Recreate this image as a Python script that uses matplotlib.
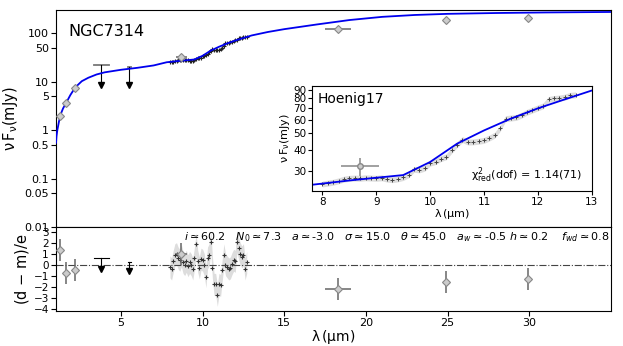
import numpy as np
import matplotlib
matplotlib.use('Agg')
import matplotlib.pyplot as plt
from matplotlib.ticker import FixedLocator, FixedFormatter, NullLocator

# photometry (diamonds)
phot_wl = [1.25, 1.65, 2.2, 8.7, 18.3, 24.9, 29.9]
phot_flux = [2.0, 3.6, 7.3, 32.0, 121.0, 182.0, 204.0]
phot_xerr = [0.0, 0.0, 0.0, 0.35, 0.8, 0.0, 0.0]
phot_yerr = [0.2, 0.4, 0.8, 4.0, 12.0, 25.0, 30.0]
phot_res = [1.3, -0.75, -0.5, 1.0, -2.2, -1.6, -1.3]

# upper limits
ul_wl = [3.8, 5.5]
ul_flux = [22.0, 20.0]
ul_tip = [8.5, 8.5]
ul_cap = [0.45, 0.1]
ul_res = [0.6, 0.2]
ul_res_tip = [-0.4, -0.6]

# spectrum (Hoenig17)
spec_wl = [8.0, 8.1, 8.2, 8.3, 8.4, 8.5, 8.6, 8.7, 8.8, 8.9, 9.0, 9.1, 9.2, 9.3, 9.4, 9.5,
           9.6, 9.7, 9.8, 9.9, 10.0, 10.1, 10.2, 10.3, 10.4, 10.5, 10.6, 10.7, 10.8, 10.9,
           11.0, 11.1, 11.2, 11.3, 11.4, 11.5, 11.6, 11.7, 11.8, 11.9, 12.0, 12.1, 12.2,
           12.3, 12.4, 12.5, 12.6, 12.7]
spec_flux = [25.3, 25.6, 25.9, 26.4, 27.0, 27.3, 27.4, 27.3, 27.5, 27.4, 27.3, 27.5, 27.0,
             26.8, 27.1, 27.6, 28.6, 30.8, 30.6, 31.3, 33.5, 34.2, 35.6, 36.5, 39.8, 43.0,
             46.0, 44.5, 44.6, 45.0, 45.5, 47.0, 48.8, 53.5, 61.0, 61.5, 62.0, 64.0, 66.5,
             68.5, 70.5, 72.5, 79.0, 80.0, 80.5, 81.5, 83.5, 84.0]
spec_res = [-0.2, -0.4, 0.3, 0.9, 1.0, 0.6, 0.4, 0.8, 0.2, 0.0, 0.3, -0.1, 0.2, 0.0, -0.4,
            0.6, 1.9, 0.3, -0.3, 0.5, 0.4, 0.0, -1.1, 0.6, 0.9, 2.1, -0.3, -1.8, -1.8, -2.8,
            -1.8, -1.9, -0.5, 0.9, 0.0, -0.2, -0.4, -0.3, 0.1, 0.4, 0.3, 2.1, 1.5, 1.0, 0.7,
            0.9, -0.4, 0.2]

# model
mod_wl = [1.02, 1.05, 1.1, 1.2, 1.3, 1.45, 1.65, 1.9, 2.2, 2.6, 3.0, 3.5, 4.0, 5.0, 6.0,
          7.0, 7.8, 8.5, 9.0, 9.5, 10.0, 10.5, 11.0, 11.5, 12.0, 12.5, 13.0, 14, 15, 17,
          19, 21, 23, 25, 28, 31, 35]
mod_flux = [0.55, 0.75, 1.0, 1.5, 2.1, 2.8, 3.7, 5.3, 7.6, 10.2, 12.0, 14.0, 15.5, 17.5,
            19.2, 21.5, 25.0, 26.5, 27.5, 28.5, 34.0, 43.5, 52.0, 61.0, 70.0, 79.0, 89.0,
            105, 120, 150, 185, 215, 235, 248, 258, 265, 271]

params = (r'$i\simeq60.2\ \ \ N_0\simeq7.3\ \ \ a\simeq$-3.0$\ \ \ \sigma\simeq15.0\ \ \ '
          r'\theta\simeq45.0\ \ \ a_w\simeq$-0.5$\ h\simeq0.2\ \ \ \ f_{wd}\simeq0.8$')

diam = dict(fmt='D', ms=4.5, mfc='#cccccc', mec='#888888', mew=0.8,
            ecolor='#666666', elinewidth=1.1, capsize=0)

fig = plt.figure(figsize=(6.23, 3.46), dpi=100)
ax = fig.add_axes([0.0894, 0.343, 0.891, 0.6286])
axr = fig.add_axes([0.0894, 0.102, 0.891, 0.241], sharex=ax)

# ---- top panel
ax.set_yscale('log')
spec_err = np.array(spec_flux) * 0.04
ax.fill_between(spec_wl, np.array(spec_flux) - spec_err, np.array(spec_flux) + spec_err,
                color='#bbbbbb', lw=0)
ax.plot(spec_wl, spec_flux, '+', color='#222222', ms=3, mew=0.8)
ax.plot(mod_wl, mod_flux, color='#0000ee', lw=1.3, zorder=3)
ax.errorbar(phot_wl, phot_flux, xerr=phot_xerr, yerr=phot_yerr, zorder=4, **diam)
for x, y, t, c in zip(ul_wl, ul_flux, ul_tip, ul_cap):
    ax.plot([x - c, x + c], [y, y], color='#777777', lw=1.3)
    ax.plot([x, x], [y, t], color='black', lw=0.8)
    ax.plot(x, t, 'v', color='black', ms=4.5)
ax.set_xlim(1.0, 35.0)
ax.set_ylim(0.01, 300)
yt = [0.01, 0.05, 0.1, 0.5, 1, 5, 10, 50, 100]
ax.yaxis.set_major_locator(FixedLocator(yt))
ax.yaxis.set_major_formatter(FixedFormatter(['0.01', '0.05', '0.1', '0.5', '1', '5', '10', '50', '100']))
ax.yaxis.set_minor_locator(NullLocator())
ax.tick_params(labelsize=8, labelbottom=False, pad=1.5)
ax.set_ylabel(r'$\mathregular{\nu\,F_\nu}$(mJy)', fontsize=10.5, labelpad=3)
ax.text(0.022, 0.935, 'NGC7314', transform=ax.transAxes, fontsize=11.5, va='top')

# ---- inset
axi = fig.add_axes([0.5003, 0.448, 0.4494, 0.3043])
axi.set_yscale('log')
axi.fill_between(spec_wl, np.array(spec_flux) - spec_err, np.array(spec_flux) + spec_err,
                 color='#dddddd', lw=0)
axi.plot(spec_wl, spec_flux, '+', color='#444444', ms=3, mew=0.7)
axi.plot(mod_wl, mod_flux, color='#0000ee', lw=1.3)
axi.errorbar(phot_wl[3], phot_flux[3], xerr=phot_xerr[3], yerr=phot_yerr[3], fmt='o', ms=4,
             mfc='#cccccc', mec='#888888', ecolor='#999999', elinewidth=1.3)
axi.set_xlim(7.8, 13)
axi.set_ylim(23, 95)
it = [30, 40, 50, 60, 70, 80, 90]
axi.yaxis.set_major_locator(FixedLocator(it))
axi.yaxis.set_major_formatter(FixedFormatter([str(v) for v in it]))
axi.yaxis.set_minor_locator(NullLocator())
axi.set_xticks([8, 9, 10, 11, 12, 13])
axi.tick_params(labelsize=7.5, pad=1, length=3)
axi.set_xlabel(r'$\mathregular{\lambda\,(\mu m)}$', fontsize=8, labelpad=0)
axi.set_ylabel(r'$\mathregular{\nu\,F_\nu}$(mJy)', fontsize=8, labelpad=1)
axi.text(0.02, 0.94, 'Hoenig17', transform=axi.transAxes, fontsize=10, va='top')
axi.text(0.965, 0.06, r'$\mathregular{\chi^2_{red}}$(dof) = 1.14(71)', transform=axi.transAxes,
         fontsize=8, ha='right', va='bottom')

# ---- residuals
res = np.array(spec_res)
axr.fill_between(spec_wl, res - 1.0, res + 1.0, color='#dddddd', lw=0)
axr.plot(spec_wl, spec_res, '+', color='#333333', ms=3.5, mew=0.8)
axr.axhline(0, color='#444444', lw=0.8, ls='-.')
axr.errorbar(phot_wl, phot_res, xerr=phot_xerr, yerr=[1] * len(phot_wl), zorder=4, **diam)
for x, y, t, c in zip(ul_wl, ul_res, ul_res_tip, ul_cap):
    axr.plot([x - c, x + c], [y, y], color='black', lw=0.8)
    axr.plot([x, x], [y, t], color='black', lw=0.8)
    axr.plot(x, t, 'v', color='black', ms=4.5)
axr.set_ylim(-4.2, 3.4)
axr.set_yticks([-4, -3, -2, -1, 0, 1, 2, 3])
axr.set_xticks([5, 10, 15, 20, 25, 30])
axr.tick_params(axis='y', labelsize=7.5, pad=1.5)
axr.tick_params(axis='x', labelsize=8, pad=1.5)
axr.set_ylabel('(d $-$ m)/e', fontsize=10.5, labelpad=2)
axr.set_xlabel(r'$\mathregular{\lambda\,(\mu m)}$', fontsize=10, labelpad=0)
axr.text(0.998, 0.97, params, transform=axr.transAxes, fontsize=8, ha='right', va='top')

fig.savefig('out.png', dpi=100)
